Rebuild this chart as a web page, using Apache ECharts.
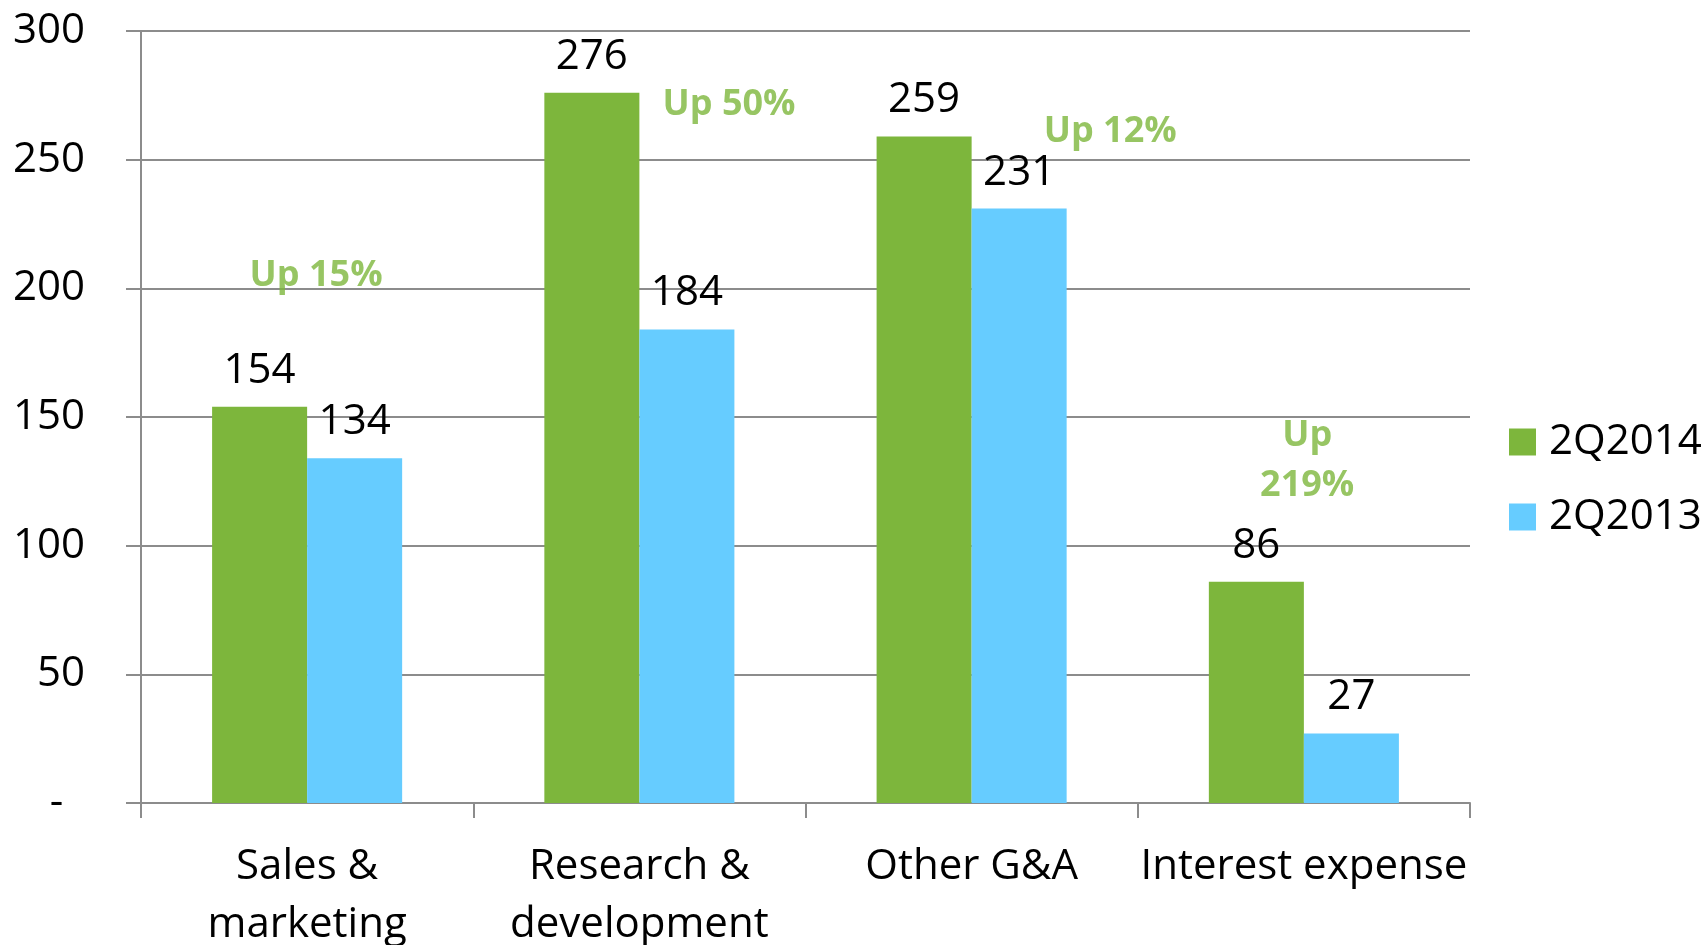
<!DOCTYPE html>
<html>
<head>
<meta charset="utf-8">
<script src="https://cdn.jsdelivr.net/npm/echarts@6/dist/echarts.min.js"></script>
<style>html,body{margin:0;padding:0;background:#fff;overflow:hidden;}#c{width:1705px;height:945px;}</style>
</head>
<body>
<div id="c"></div>
<script>
var categories = ['Sales &\nmarketing', 'Research &\ndevelopment', 'Other G&A', 'Interest expense'];
var series2014 = [154, 276, 259, 86];
var series2013 = [134, 184, 231, 27];
var seriesNames = ['2Q2014', '2Q2013'];
var yTicks = [0, 50, 100, 150, 200, 250, 300];
// annotation text with position in data units: [category position (0..4 across axis), value]
var annotTexts = ['Up 15%', 'Up 50%', 'Up 12%', 'Up\n219%'];
var annotX = [0.527, 1.77, 2.917, 3.51];
var annotY = [205, 271.5, 261, 133];

var FONT = 'Open Sans';
var GREEN = '#7db63c';
var BLUE = '#66ccff';
var GRAY = '#8c8c8c';
var FS = 42;

var chart = echarts.init(document.getElementById('c'), null, {renderer: 'canvas'});
chart.setOption({
  backgroundColor: '#fff',
  animation: false,
  textStyle: {fontFamily: FONT},
  grid: {left: 141, right: 235, top: 31, bottom: 142, containLabel: false, outerBoundsMode: 'none'},
  legend: {
    orient: 'vertical',
    left: 1504, top: 414,
    itemWidth: 27, itemHeight: 27, itemGap: 29,
    icon: 'rect',
    textStyle: {fontFamily: FONT, fontSize: FS, color: '#000', lineHeight: 46, padding: [0, 0, 0, 8]},
    data: seriesNames
  },
  xAxis: [{
    type: 'category',
    data: categories,
    axisLine: {lineStyle: {color: GRAY, width: 2}},
    axisTick: {show: true, length: 15, lineStyle: {color: GRAY, width: 2}},
    axisLabel: {fontFamily: FONT, fontSize: FS, color: '#000', lineHeight: 58, margin: 35, interval: 0}
  }, {
    type: 'value', min: 0, max: 4, show: false
  }],
  yAxis: {
    type: 'value',
    min: yTicks[0], max: yTicks[yTicks.length - 1], interval: 50,
    axisLine: {show: true, lineStyle: {color: GRAY, width: 2}},
    axisTick: {show: true, length: 15, lineStyle: {color: GRAY, width: 2}},
    splitLine: {lineStyle: {color: GRAY, width: 2}},
    axisLabel: {
      fontFamily: FONT, fontSize: FS, color: '#000', margin: 56,
      formatter: function (v) { return v === 0 ? '-  ' : String(v); }
    }
  },
  series: [{
    name: seriesNames[0], type: 'bar', data: series2014,
    itemStyle: {color: GREEN},
    barGap: '0%', barCategoryGap: '42.8%',
    label: {show: true, position: 'top', distance: 15, fontFamily: FONT, fontSize: FS, color: '#000'}
  }, {
    name: seriesNames[1], type: 'bar', data: series2013,
    itemStyle: {color: BLUE},
    barGap: '0%', barCategoryGap: '42.8%',
    label: {show: true, position: 'top', distance: 15, fontFamily: FONT, fontSize: FS, color: '#000'}
  }, {
    name: 'annotations', type: 'scatter', xAxisIndex: 1,
    symbolSize: 0, silent: true,
    data: annotX.map(function (x, i) { return {value: [x, annotY[i]], label: {formatter: annotTexts[i]}}; }),
    label: {show: true, position: 'inside', fontFamily: FONT, fontWeight: 'bold', fontSize: 36, color: GREEN, lineHeight: 50, align: 'center', verticalAlign: 'middle'}
  }]
});
</script>
</body>
</html>
